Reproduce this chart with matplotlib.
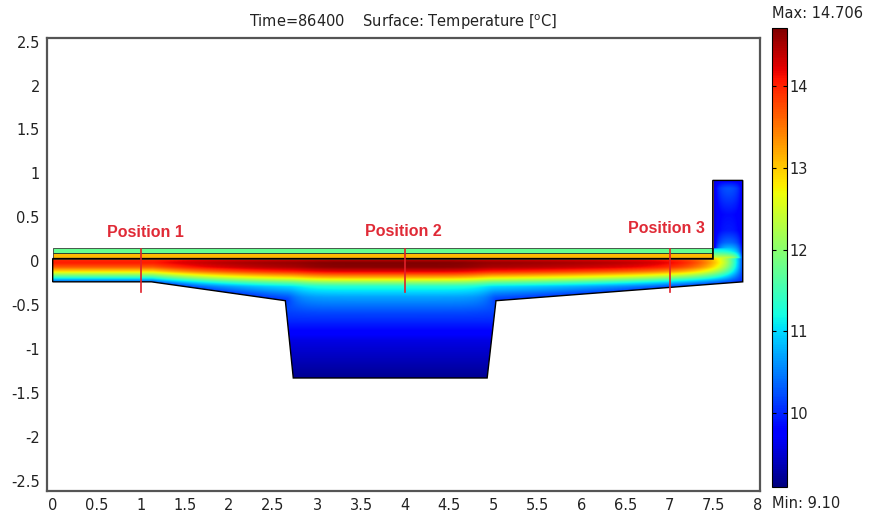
import numpy as np
import matplotlib
matplotlib.use('Agg')
import matplotlib.pyplot as plt
from matplotlib.patches import Polygon

# ---------------- data ----------------
# concrete cross-section outline (m)
section_x = [0.0, 7.49, 7.49, 7.83, 7.83, 5.03, 4.93, 2.73, 2.64, 1.12, 0.0]
section_y = [0.03, 0.03, 0.92, 0.92, -0.235, -0.45, -1.33, -1.33, -0.45, -0.235, -0.235]
# pavement layers on top of the deck
layer_bottom = [0.03, 0.09]
layer_top = [0.09, 0.145]
layer_x_end = 7.49
layer_temp = [13.1, 11.75]
# temperature vs. depth below deck top (mid-span)
depth = [0.0, 0.05, 0.10, 0.15, 0.22, 0.27, 0.32, 0.44, 0.62, 0.93, 1.36]
depth_temp = [14.3, 14.7, 14.65, 14.2, 13.1, 12.1, 11.3, 10.7, 10.2, 9.6, 9.2]
# parapet centre temperature vs. height above deck top
par_height = [0.0, 0.08, 0.18, 0.32, 0.5, 0.68, 0.8, 0.89]
par_temp = [12.6, 11.3, 10.5, 10.0, 9.9, 10.2, 10.4, 10.0]
surface_temp = 10.0
edge_temp = 9.5
# measurement positions
pos_x = [1.0, 4.0, 7.0]
pos_y_top = 0.14
pos_y_bottom = -0.35
pos_labels = ['Position 1', 'Position 2', 'Position 3']
label_x = [1.05, 3.98, 6.96]
label_y = [0.33, 0.34, 0.37]
t_min, t_max = 9.10, 14.706
cbar_ticks = [10, 11, 12, 13, 14]
x_ticks = [0, 0.5, 1, 1.5, 2, 2.5, 3, 3.5, 4, 4.5, 5, 5.5, 6, 6.5, 7, 7.5, 8]
y_ticks = [-2.5, -2, -1.5, -1, -0.5, 0, 0.5, 1, 1.5, 2, 2.5]

# ---------------- temperature field ----------------
y_top = section_y[0]
x_right = section_x[3]
x_par = section_x[1]
xs = np.linspace(0, x_right, 1000)
ys = np.linspace(min(section_y), max(section_y), 420)
X, Y = np.meshgrid(xs, ys)

def seg_dist(px, py, ax_, ay_, bx_, by_):
    vx, vy = bx_ - ax_, by_ - ay_
    t = ((px - ax_) * vx + (py - ay_) * vy) / (vx * vx + vy * vy)
    t = np.clip(t, 0, 1)
    return np.hypot(px - (ax_ + t * vx), py - (ay_ + t * vy))

# exposed bottom surfaces of the flanges
segs = [(section_x[10], section_y[10], section_x[9], section_y[9]),
        (section_x[9], section_y[9], section_x[8], section_y[8]),
        (section_x[5], section_y[5], section_x[4], section_y[4])]
dist_b = np.min([seg_dist(X, Y, *s) for s in segs], axis=0)

d = np.clip(y_top - Y, 0, None)
T_base = np.interp(d, depth, depth_temp)
fb = 0.15 + 0.85 * (1 - np.exp(-dist_b / 0.12))
fr = 1 - np.exp(-np.clip(x_right - X, 0, None) / 0.25)
excess = np.clip(T_base - surface_temp, 0, None)
T = np.minimum(T_base, surface_temp) + excess * fb * fr

# parapet
hgt = Y - y_top
in_par = (hgt > 0) & (X >= x_par)
Tc = np.interp(hgt, par_height, par_temp)
dl = np.where(Y > layer_top[-1], X - x_par, 1.0)
dr = x_right - X
dt = max(section_y) - Y
s = (1 - np.exp(-np.clip(dl, 0, None) / 0.06)) * (1 - np.exp(-np.clip(dr, 0, None) / 0.06)) \
    * (1 - 0.5 * np.exp(-np.clip(dt, 0, None) / 0.04))
T_par = edge_temp + (Tc - edge_temp) * s
T = np.where(in_par, T_par, T)

# ---------------- figure ----------------
fig = plt.figure(figsize=(8.71, 5.15), dpi=100)
ax = fig.add_axes([46.7 / 871, 1 - 491 / 515, (760 - 46.7) / 871, (491 - 37.7) / 515])

cmap = plt.get_cmap('jet')
norm = matplotlib.colors.Normalize(t_min, t_max)
im = ax.imshow(T, extent=[0, x_right, ys[0], ys[-1]], origin='lower', cmap=cmap, norm=norm,
               interpolation='bilinear', aspect='auto', zorder=1)
clip = Polygon(np.column_stack([section_x, section_y]), closed=True, transform=ax.transData)
im.set_clip_path(clip)
ax.add_patch(Polygon(np.column_stack([section_x, section_y]), closed=True, fill=False,
                     edgecolor='black', lw=1.0, zorder=3))

for yb, yt, tv in zip(layer_bottom, layer_top, layer_temp):
    ax.add_patch(Polygon([[0, yb], [layer_x_end, yb], [layer_x_end, yt], [0, yt]], closed=True,
                         facecolor=cmap(norm(tv)), edgecolor='#1a1a1a', lw=0.5, zorder=2))

for px, lab, lx, ly in zip(pos_x, pos_labels, label_x, label_y):
    ax.plot([px, px], [pos_y_top, pos_y_bottom], color='#e0202a', lw=1.2, zorder=4)
    ax.text(lx, ly, lab, color='#e02a36', fontsize=11.5, fontweight='bold',
            family='Liberation Sans', ha='center', va='center', zorder=5)

ax.set_xlim(-0.068, 8.026)
ax.set_ylim(-2.617, 2.545)
ax.set_xticks(x_ticks)
ax.set_xticklabels([f'{v:g}' for v in x_ticks])
ax.set_yticks(y_ticks)
ax.set_yticklabels([f'{v:g}' for v in y_ticks])
ax.tick_params(length=0, labelsize=10.5, labelcolor='#222222', pad=5)
for sp in ax.spines.values():
    sp.set_color('#555555')
    sp.set_linewidth(1.6)

fig.text(403 / 871, 1 - 22 / 515, r'Time=86400    Surface: Temperature [$^{\mathrm{o}}$C]',
         ha='center', va='center', fontsize=10.5, color='#222222')

cax = fig.add_axes([772 / 871, 1 - 487 / 515, 15 / 871, (487 - 28) / 515])
cb = fig.colorbar(im, cax=cax, ticks=cbar_ticks)
cb.outline.set_linewidth(0.8)
cax.tick_params(direction='in', length=3, width=0.8, labelsize=10.5, labelcolor='#222222', pad=2,
                left=True, right=True)
fig.text(772 / 871, 1 - 13 / 515, 'Max: 14.706', ha='left', va='center', fontsize=10.5, color='#222222')
fig.text(772 / 871, 1 - 503 / 515, 'Min: 9.10', ha='left', va='center', fontsize=10.5, color='#222222')

fig.savefig('out.png', dpi=100)
